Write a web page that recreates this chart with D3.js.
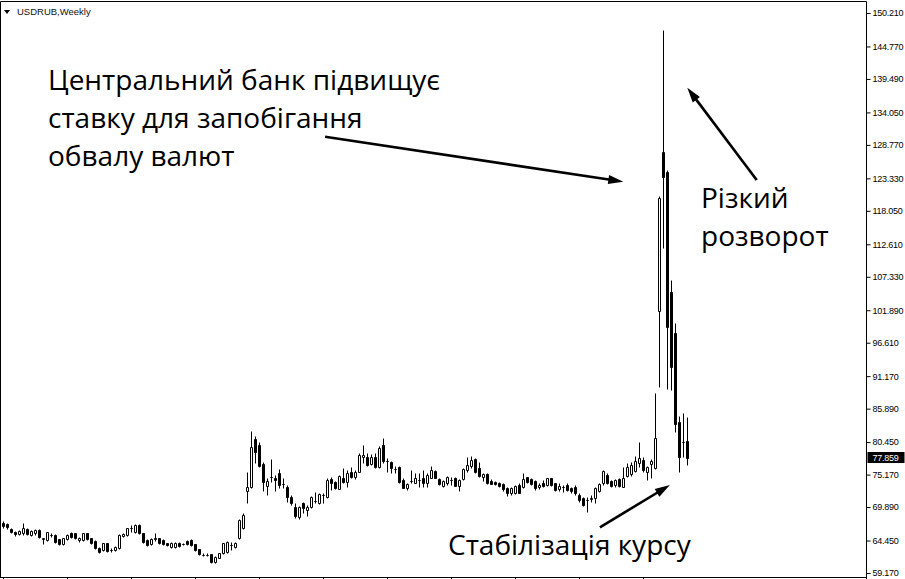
<!DOCTYPE html>
<html>
<head>
<meta charset="utf-8">
<script src="https://cdn.jsdelivr.net/npm/d3@7"></script>
<style>
  body { margin: 0; background: #fff; }
  svg { display: block; }
</style>
</head>
<body>
<svg id="drawing_region"></svg>
<script>
// USDRUB weekly bars, one entry per week
const opens = [
  67.24, 67.08, 66.27, 65.88, 65.50, 65.62, 66.32, 65.34, 65.62, 66.16,
  64.77, 64.53, 65.42, 65.34, 64.64, 63.83, 64.64, 65.62, 65.62, 64.53,
  64.53, 65.62, 64.81, 64.37, 63.28, 62.91, 63.99, 62.91, 62.91, 63.18,
  65.18, 65.34, 66.48, 65.88, 66.97, 65.62, 64.53, 63.88, 64.77, 64.81,
  64.53, 64.04, 63.44, 63.34, 64.09, 63.91, 64.37, 64.53, 63.83, 63.02,
  62.17, 62.12, 62.20, 61.00, 61.67, 62.37, 62.63, 63.72, 63.34, 64.81,
  66.43, 72.55, 73.20, 80.95, 79.97, 76.84, 73.36, 74.75, 74.66, 75.38,
  73.66, 73.20, 71.57, 69.94, 68.26, 70.54, 69.41, 69.84, 70.95, 70.54,
  71.80, 71.47, 74.40, 73.96, 72.87, 74.62, 74.01, 75.64, 74.83, 75.64,
  77.98, 78.08, 76.84, 78.08, 76.45, 79.97, 77.43, 77.27, 76.05, 76.45,
  74.29, 72.94, 74.10, 73.85, 74.26, 74.57, 73.80, 74.69, 75.75, 74.40,
  73.32, 73.85, 74.26, 74.57, 73.36, 74.40, 75.91, 76.56, 77.65, 76.19,
  74.83, 75.26, 74.18, 74.01, 73.85, 73.59, 73.04, 72.12, 72.22, 73.48,
  73.20, 74.73, 74.40, 74.18, 73.10, 73.85, 73.48, 74.57, 73.75, 72.77,
  73.15, 73.48, 72.94, 73.10, 71.85, 71.31, 71.00, 71.28, 71.31, 72.55,
  73.75, 75.10, 74.18, 73.48, 74.40, 73.20, 74.94, 75.26, 75.80, 77.05,
  77.54, 75.64, 76.84, 76.19, 101.81, 127.66, 124.41, 104.90, 98.13, 83.76,
  80.51, 80.63
];
const highs = [
  67.62, 67.29, 66.48, 66.07, 66.16, 67.24, 66.48, 66.24, 66.32, 66.32,
  64.94, 65.91, 65.67, 65.50, 64.77, 64.94, 65.50, 65.83, 65.75, 65.07,
  65.75, 65.75, 64.94, 64.53, 63.39, 64.12, 64.12, 63.18, 63.56, 65.50,
  65.62, 66.56, 66.97, 67.13, 67.13, 65.75, 64.69, 64.86, 65.72, 64.94,
  64.69, 64.09, 64.20, 64.20, 64.20, 64.09, 64.53, 64.69, 63.96, 63.15,
  62.37, 62.37, 62.33, 61.93, 62.50, 64.12, 64.37, 64.25, 64.20, 67.94,
  68.91, 75.63, 82.30, 81.49, 80.51, 77.21, 74.62, 77.70, 75.10, 76.07,
  74.62, 73.48, 71.85, 70.54, 70.05, 70.70, 70.22, 71.68, 72.38, 72.12,
  72.22, 74.62, 74.78, 74.13, 75.10, 76.24, 75.91, 76.45, 75.91, 78.68,
  79.97, 78.68, 78.51, 78.68, 79.86, 81.11, 77.87, 77.38, 76.61, 76.56,
  74.57, 73.75, 75.91, 75.38, 75.43, 75.91, 75.43, 76.56, 75.91, 74.57,
  74.29, 74.94, 74.83, 74.83, 74.40, 76.19, 78.08, 78.19, 77.81, 77.27,
  75.38, 75.48, 74.40, 74.18, 74.01, 73.75, 73.20, 73.20, 73.48, 73.75,
  75.48, 74.83, 74.57, 74.29, 73.75, 74.29, 74.66, 74.66, 73.85, 73.75,
  73.48, 73.75, 73.20, 73.48, 72.12, 71.57, 71.57, 71.85, 73.20, 73.85,
  75.91, 75.38, 74.29, 74.40, 74.57, 76.45, 77.11, 77.27, 78.19, 80.51,
  77.98, 76.56, 77.65, 88.38, 120.46, 147.44, 124.76, 106.80, 99.76, 84.69,
  85.13, 84.58
];
const lows = [
  66.56, 66.40, 65.67, 65.26, 65.34, 65.42, 65.34, 65.18, 65.42, 64.86,
  63.88, 64.37, 65.10, 64.04, 63.72, 63.72, 64.53, 64.94, 64.69, 64.25,
  64.37, 64.53, 63.96, 63.07, 62.42, 62.74, 62.66, 62.63, 62.74, 63.07,
  65.07, 65.18, 65.88, 65.75, 65.50, 64.12, 63.56, 63.72, 64.37, 63.96,
  63.72, 63.64, 63.31, 63.23, 63.47, 63.72, 63.72, 63.56, 62.74, 62.09,
  61.93, 61.93, 60.87, 60.87, 61.56, 62.25, 62.50, 62.91, 63.23, 64.69,
  66.32, 70.59, 72.99, 77.05, 76.45, 72.55, 71.85, 73.96, 72.55, 72.99,
  72.99, 70.70, 70.22, 68.10, 67.94, 68.91, 68.43, 69.73, 70.54, 70.38,
  70.54, 71.36, 72.66, 72.82, 72.77, 73.80, 73.20, 74.62, 74.45, 75.54,
  77.00, 76.56, 76.73, 76.24, 76.24, 77.05, 75.64, 75.43, 75.43, 73.80,
  72.94, 72.66, 73.85, 73.75, 73.20, 73.20, 73.20, 74.59, 74.59, 73.48,
  73.10, 73.48, 73.48, 73.32, 72.55, 74.29, 75.64, 76.19, 75.38, 74.83,
  74.13, 73.64, 73.59, 73.48, 73.20, 72.55, 71.68, 71.85, 71.97, 72.12,
  73.04, 73.75, 73.48, 72.66, 72.77, 73.20, 73.32, 73.32, 72.50, 72.55,
  72.38, 72.50, 72.12, 71.85, 70.75, 70.05, 69.13, 70.75, 70.59, 72.38,
  73.48, 73.64, 73.10, 73.15, 73.15, 73.10, 74.78, 74.94, 75.59, 76.45,
  75.64, 74.29, 74.66, 76.02, 89.45, 112.00, 89.03, 88.92, 82.09, 75.63,
  77.98, 76.73
];
const closes = [
  66.80, 66.59, 65.88, 65.46, 65.99, 66.43, 65.46, 66.04, 66.16, 64.97,
  64.86, 65.78, 65.39, 64.16, 63.88, 64.81, 65.34, 65.07, 64.81, 64.86,
  65.62, 64.64, 64.09, 63.18, 62.63, 63.99, 62.80, 62.96, 63.44, 65.34,
  65.50, 66.43, 66.53, 66.97, 65.62, 64.25, 63.72, 64.69, 64.81, 64.09,
  63.83, 63.80, 64.09, 64.09, 63.61, 63.94, 63.83, 63.72, 62.91, 62.20,
  62.14, 62.17, 61.00, 61.81, 62.37, 63.99, 64.25, 63.77, 64.09, 67.78,
  68.59, 73.20, 79.70, 78.88, 76.61, 73.92, 74.13, 74.80, 74.29, 73.48,
  73.62, 71.57, 70.59, 68.48, 69.89, 69.73, 69.89, 71.57, 70.89, 72.01,
  71.87, 74.29, 73.75, 72.94, 74.94, 74.01, 75.48, 74.83, 75.64, 78.35,
  78.35, 76.73, 78.08, 76.45, 79.43, 77.43, 77.38, 76.19, 76.00, 73.92,
  73.04, 73.59, 74.16, 74.57, 74.32, 73.75, 75.10, 75.91, 74.69, 73.59,
  74.18, 74.73, 74.32, 73.36, 74.29, 76.07, 76.73, 77.54, 75.64, 74.94,
  75.26, 73.85, 73.64, 73.64, 73.32, 72.77, 72.12, 72.94, 73.32, 72.22,
  74.40, 74.01, 73.64, 72.94, 73.48, 73.32, 74.57, 73.48, 72.66, 73.32,
  73.20, 72.66, 72.55, 72.12, 71.03, 70.22, 71.06, 71.34, 72.94, 73.64,
  75.80, 73.85, 73.32, 74.29, 73.32, 74.57, 76.45, 76.73, 77.43, 77.87,
  75.91, 76.35, 77.38, 81.16, 120.08, 123.59, 99.11, 92.61, 83.39, 77.98,
  80.46, 77.859
];

// price scale labels as printed on the right axis
const priceTicks = [150.21, 144.77, 139.49, 134.05, 128.77, 123.33, 118.05, 112.61, 107.33,
                    101.89, 96.61, 91.17, 85.89, 80.45, 75.17, 69.89, 64.45, 59.17];
const priceRange = [59.17, 150.21];
const symbolTitle = 'USDRUB,Weekly';

// annotation texts (pixel layout) and arrows (in bar index / price units)
const noteTexts = [
  { lines: ['Центральний банк підвищує', 'ставку для запобігання', 'обвалу валют'], x: 48, y: 90 },
  { lines: ['Різкий', 'розворот'], x: 701, y: 208 },
  { lines: ['Стабілізація курсу'], x: 448, y: 555 }
];
const noteArrows = [
  { from: [80.4, 130.10], to: [154.95, 122.78] },
  { from: [188.3, 123.06], to: [170.95, 138.06] },
  { from: [149.1, 66.60], to: [166.6, 73.47] }
];

class CandleChart {

    constructor( config ) {
        this.config = config;
        this.bars = d3.range(closes.length).map(i => ({
            i: i, open: opens[i], high: highs[i], low: lows[i], close: closes[i]
        }));
        this.init();
    }

    init() {
        let self = this;

        self.svg = d3.select(self.config.parent)
            .attr('width', self.config.width)
            .attr('height', self.config.height);

        self.svg.append('rect')
            .attr('width', self.config.width)
            .attr('height', self.config.height)
            .attr('fill', '#fff');

        // 4 px per weekly bar, first bar at the left edge
        self.xscale = d3.scaleLinear()
            .domain([0, 1])
            .range([3.5, 7.5]);

        self.yscale = d3.scaleLinear()
            .domain(priceRange)
            .range([573, 13]);

        self.chart = self.svg.append('g');
        self.axis_group = self.svg.append('g')
            .attr('transform', `translate(${self.config.axisX}, 0)`);
        self.notes = self.svg.append('g');
    }

    render() {
        let self = this;
        const ax = self.config.axisX;
        const bottom = self.config.bottom;

        // frame
        self.svg.append('path')
            .attr('d', `M0.5,${bottom} V1.5 H${ax} V${self.config.height}`)
            .attr('fill', 'none')
            .attr('stroke', '#000');
        self.svg.append('line')
            .attr('x1', 0).attr('x2', ax)
            .attr('y1', bottom).attr('y2', bottom)
            .attr('stroke', '#000');

        // time ticks every 16 bars
        self.svg.append('g')
            .selectAll('line')
            .data(d3.range(0, closes.length, 16))
            .join('line')
            .attr('x1', d => self.xscale(d)).attr('x2', d => self.xscale(d))
            .attr('y1', bottom).attr('y2', bottom + 5)
            .attr('stroke', '#000');

        const yp = v => Math.round(self.yscale(v)) + 0.5;

        // wicks
        self.chart.selectAll('line.wick')
            .data(self.bars)
            .join('line')
            .attr('class', 'wick')
            .attr('x1', d => self.xscale(d.i)).attr('x2', d => self.xscale(d.i))
            .attr('y1', d => yp(d.high)).attr('y2', d => yp(d.low))
            .attr('stroke', '#000')
            .attr('stroke-width', 1);

        // bodies
        self.chart.selectAll('path.body')
            .data(self.bars)
            .join('path')
            .attr('class', 'body')
            .attr('d', d => {
                const cx = self.xscale(d.i);
                const t = yp(Math.max(d.open, d.close));
                const b = yp(Math.min(d.open, d.close));
                return `M${cx - 1},${t} H${cx + 1} V${b} H${cx - 1} Z`;
            })
            .attr('fill', d => d.close >= d.open ? '#fff' : '#000')
            .attr('stroke', '#000')
            .attr('stroke-width', 1);

        // right price scale
        const yaxis = d3.axisRight(self.yscale)
            .tickValues(priceTicks)
            .tickFormat(d3.format('.3f'))
            .tickSize(4)
            .tickPadding(2);
        self.axis_group.call(yaxis);
        self.axis_group.select('.domain').remove();
        self.axis_group.selectAll('text')
            .attr('font-family', 'Liberation Sans, Arial, sans-serif')
            .attr('font-size', 9)
            .attr('letter-spacing', -0.25)
            .attr('fill', '#000');

        // last price marker
        const last = closes[closes.length - 1];
        const ly = self.yscale(last);
        self.svg.append('rect')
            .attr('x', ax + 1).attr('y', Math.round(ly) - 6)
            .attr('width', 37).attr('height', 11)
            .attr('fill', '#000');
        self.svg.append('text')
            .attr('x', ax + 6).attr('y', ly)
            .attr('dy', '0.32em')
            .attr('font-family', 'Liberation Sans, Arial, sans-serif')
            .attr('font-size', 9)
            .attr('letter-spacing', -0.25)
            .attr('fill', '#fff')
            .text(d3.format('.3f')(last));

        // title
        self.svg.append('path')
            .attr('d', 'M4,10 H10 L7,14 Z')
            .attr('fill', '#000');
        self.svg.append('text')
            .attr('x', 17).attr('y', 15)
            .attr('font-family', 'Liberation Sans, Arial, sans-serif')
            .attr('font-size', 9.5)
            .attr('fill', '#111')
            .text(symbolTitle);

        // annotations
        noteTexts.forEach(n => {
            const t = self.notes.append('text')
                .attr('font-family', 'Open Sans, Noto Sans, sans-serif')
                .attr('font-size', 28)
                .attr('fill', '#000');
            n.lines.forEach((line, k) => {
                t.append('tspan')
                    .attr('x', n.x)
                    .attr('y', n.y + k * 38)
                    .text(line);
            });
        });

        noteArrows.forEach(a => {
            const x1 = self.xscale(a.from[0]), y1 = self.yscale(a.from[1]);
            const x2 = self.xscale(a.to[0]), y2 = self.yscale(a.to[1]);
            const ang = Math.atan2(y2 - y1, x2 - x1);
            const len = 15, half = 4.5;
            const bx = x2 - len * Math.cos(ang), by = y2 - len * Math.sin(ang);
            self.notes.append('line')
                .attr('x1', x1).attr('y1', y1)
                .attr('x2', bx + 2 * Math.cos(ang)).attr('y2', by + 2 * Math.sin(ang))
                .attr('stroke', '#000')
                .attr('stroke-width', 2.6);
            self.notes.append('path')
                .attr('d', `M${x2},${y2} L${bx - half * Math.sin(ang)},${by + half * Math.cos(ang)} L${bx + half * Math.sin(ang)},${by - half * Math.cos(ang)} Z`)
                .attr('fill', '#000');
        });
    }
}

const chart = new CandleChart({
    parent: '#drawing_region',
    width: 905,
    height: 579,
    axisX: 866.5,
    bottom: 577.5
});
chart.render();
</script>
</body>
</html>
